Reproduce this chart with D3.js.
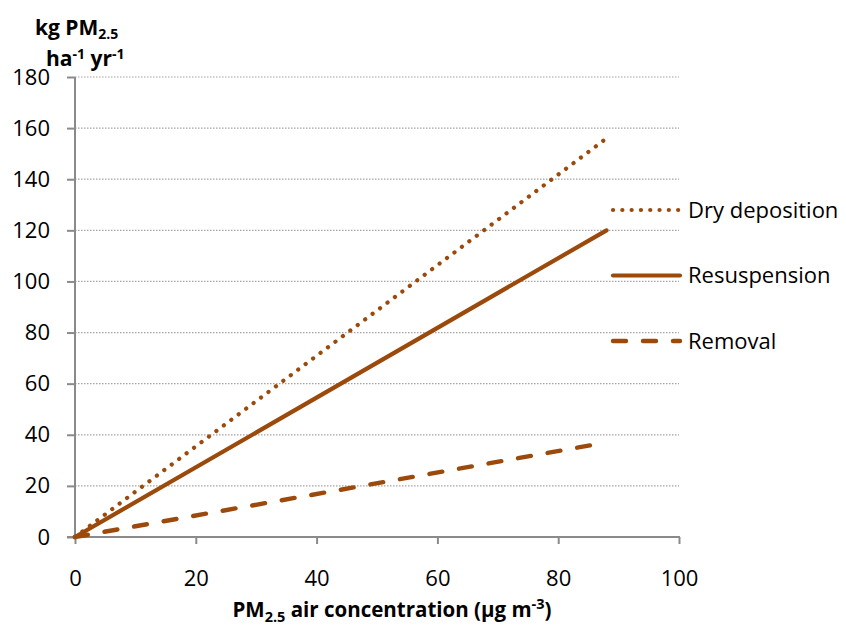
<!DOCTYPE html>
<html>
<head>
<meta charset="utf-8">
<script src="https://cdn.jsdelivr.net/npm/d3@7"></script>
<style>
  html, body { margin: 0; padding: 0; background: #fff; }
  svg { display: block; font-family: "Open Sans", "Noto Sans", sans-serif; }
</style>
</head>
<body>
<svg id="chart" width="846" height="626"></svg>
<script>
// PM2.5 air concentration (µg m-3) at the ends of each fitted line
const concentration = [0, 88];
// Fluxes in kg PM2.5 per ha per year
const dryDeposition = [0, 156];
const resuspension = [0, 120];
const removal = [0, 37];

const xTicks = [0, 20, 40, 60, 80, 100];
const yTicks = [0, 20, 40, 60, 80, 100, 120, 140, 160, 180];

const seriesNames = ["Dry deposition", "Resuspension", "Removal"];
const seriesValues = [dryDeposition, resuspension, removal];

const color = "#9C4A0C";
const styles = {
  "Dry deposition": { dash: "0.1 9.2", width: 4.2 },
  "Resuspension": { dash: null, width: 4.2 },
  "Removal": { dash: "13 17", width: 4.4 }
};

const svg = d3.select("#chart");
const margin = { left: 75, right: 167, top: 77, bottom: 89 };
const W = 846, H = 626;

const x = d3.scaleLinear().domain([0, 100]).range([margin.left, W - margin.right]);
const y = d3.scaleLinear().domain([0, 180]).range([H - margin.bottom, margin.top]);

// Horizontal grid
svg.append("g")
  .selectAll("line")
  .data(yTicks.filter(d => d > 0))
  .join("line")
  .attr("x1", x(0)).attr("x2", x(100))
  .attr("y1", d => y(d)).attr("y2", d => y(d))
  .attr("stroke", "#a3a3a3")
  .attr("stroke-width", 1.2)
  .attr("stroke-dasharray", "1.5 1.5");

// Axes
const axisColor = "#8a8a8a";
const yAxis = svg.append("g")
  .attr("transform", `translate(${x(0)},0)`)
  .call(d3.axisLeft(y).tickValues(yTicks).tickSize(8).tickPadding(17).tickFormat(d3.format("d")));
const xAxis = svg.append("g")
  .attr("transform", `translate(0,${y(0)})`)
  .call(d3.axisBottom(x).tickValues(xTicks).tickSize(7).tickPadding(26).tickFormat(d3.format("d")));

[xAxis, yAxis].forEach(g => {
  g.select(".domain").remove();
  g.selectAll(".tick line").attr("stroke", axisColor).attr("stroke-width", 2);
  g.selectAll(".tick text").attr("fill", "#000").style("font-size", "22px").style("font-family", "'Open Sans', sans-serif");
});
svg.append("line")
  .attr("x1", x(0)).attr("x2", x(0)).attr("y1", y(180)).attr("y2", y(0))
  .attr("stroke", axisColor).attr("stroke-width", 2);
svg.append("line")
  .attr("x1", x(0) - 8).attr("x2", x(100) + 1).attr("y1", y(0)).attr("y2", y(0))
  .attr("stroke", axisColor).attr("stroke-width", 2);

// Series lines
const line = d3.line().x(d => x(d[0])).y(d => y(d[1]));
seriesNames.forEach((name, i) => {
  const pts = concentration.map((c, j) => [c, seriesValues[i][j]]);
  const st = styles[name];
  svg.append("path")
    .datum(pts)
    .attr("d", line)
    .attr("fill", "none")
    .attr("stroke", color)
    .attr("stroke-width", st.width)
    .attr("stroke-linecap", "round")
    .attr("stroke-dasharray", st.dash);
});

// Legend
const legendY = [210, 275.5, 341];
const lg = svg.append("g");
seriesNames.forEach((name, i) => {
  const st = styles[name];
  lg.append("line")
    .attr("x1", 613).attr("x2", 680)
    .attr("y1", legendY[i]).attr("y2", legendY[i])
    .attr("stroke", color)
    .attr("stroke-width", st.width)
    .attr("stroke-linecap", "round")
    .attr("stroke-dasharray", st.dash);
  lg.append("text")
    .attr("x", 688).attr("y", legendY[i])
    .attr("dy", "0.35em")
    .style("font-size", "22px")
    .text(name);
});

// Y axis title (two lines)
const yt = svg.append("text")
  .attr("x", 35).attr("y", 35)
  .style("font-size", "21px").style("font-weight", "bold");
yt.append("tspan").text("kg PM");
yt.append("tspan").attr("dy", 4).style("font-size", "14px").text("2.5");
const yt2 = svg.append("text")
  .attr("x", 46).attr("y", 66)
  .style("font-size", "21px").style("font-weight", "bold");
yt2.append("tspan").text("ha");
yt2.append("tspan").attr("dy", -7).style("font-size", "14px").text("-1");
yt2.append("tspan").attr("dy", 7).text(" yr");
yt2.append("tspan").attr("dy", -7).style("font-size", "14px").text("-1");

// X axis title
const xt = svg.append("text")
  .attr("x", 392).attr("y", 617)
  .attr("text-anchor", "middle")
  .style("font-size", "20.5px").style("font-weight", "bold");
xt.append("tspan").text("PM");
xt.append("tspan").attr("dy", 5).style("font-size", "14.5px").text("2.5");
xt.append("tspan").attr("dy", -5).text(" air concentration (µg m");
xt.append("tspan").attr("dy", -8).style("font-size", "14.5px").text("-3");
xt.append("tspan").attr("dy", 8).text(")");
</script>
</body>
</html>
